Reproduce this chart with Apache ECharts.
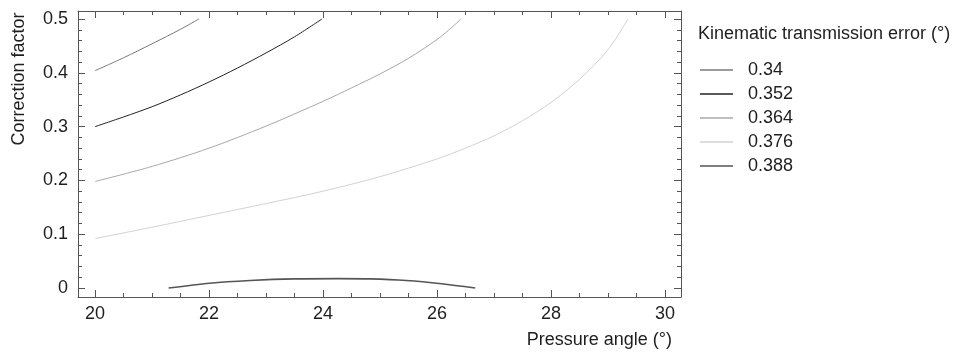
<!DOCTYPE html>
<html>
<head>
<meta charset="utf-8">
<script src="https://cdn.jsdelivr.net/npm/echarts@6/dist/echarts.min.js"></script>
<style>
  html, body { margin: 0; padding: 0; background: #fff; }
  #chart { width: 957px; height: 352px; }
</style>
</head>
<body>
<div id="chart"></div>
<script>
// contour levels (kinematic transmission error, °)
const levels = ['0.34', '0.352', '0.364', '0.376', '0.388'];

// pressure angle (x) / correction factor (y)
const x034 = [20, 20.5, 21, 21.5, 21.82];
const y034 = [0.404, 0.428, 0.454, 0.481, 0.5];

const x0352 = [20, 20.5, 21, 21.5, 22, 22.5, 23, 23.5, 23.98];
const y0352 = [0.3, 0.318, 0.337, 0.359, 0.383, 0.409, 0.437, 0.467, 0.5];

const x0364 = [20, 21, 22, 23, 24, 24.5, 25, 25.5, 26, 26.2, 26.42];
const y0364 = [0.198, 0.226, 0.26, 0.301, 0.347, 0.372, 0.398, 0.427, 0.462, 0.479, 0.5];

const x0376 = [20, 21, 22, 23, 24, 25, 26, 26.5, 27, 27.5, 28, 28.5, 29, 29.35];
const y0376 = [0.092, 0.113, 0.135, 0.157, 0.18, 0.207, 0.24, 0.26, 0.283, 0.311, 0.345, 0.388, 0.443, 0.5];

const x0388 = [21.29, 22.01, 22.72, 23.5, 24.28, 24.83, 25.46, 26.08, 26.67];
const y0388 = [0, 0.009, 0.014, 0.017, 0.0175, 0.017, 0.014, 0.008, 0];

// tick labels
const xMajor = [20, 22, 24, 26, 28, 30];
const xMinor = [20, 20.5, 21, 21.5, 22, 22.5, 23, 23.5, 24, 24.5, 25, 25.5, 26, 26.5, 27, 27.5, 28, 28.5, 29, 29.5, 30];
const yMajor = [0, 0.1, 0.2, 0.3, 0.4, 0.5];
const yMinor = [0, 0.02, 0.04, 0.06, 0.08, 0.1, 0.12, 0.14, 0.16, 0.18, 0.2, 0.22, 0.24, 0.26, 0.28, 0.3,
  0.32, 0.34, 0.36, 0.38, 0.4, 0.42, 0.44, 0.46, 0.48, 0.5];

const lineColors = ['#7a7a7a', '#222222', '#a8a8a8', '#d2d2d2', '#555555'];
const lineWidths = [1, 1, 1, 1, 1.6];

const contours = [[x034, y034], [x0352, y0352], [x0364, y0364], [x0376, y0376], [x0388, y0388]];

const font = '"Liberation Sans", Arial, sans-serif';
const textColor = '#1e1e1e';
const axisColor = '#555';

const chart = echarts.init(document.getElementById('chart'));

function xAxisCfg(pos, ticks, len, withLine, withLabel) {
  return {
    type: 'value', position: pos, min: 19.7, max: 30.28,
    axisLine: { show: withLine, onZero: false, lineStyle: { color: axisColor, width: 1 } },
    axisTick: { show: true, inside: true, length: len, customValues: ticks, lineStyle: { color: axisColor } },
    axisLabel: withLabel
      ? { show: true, customValues: xMajor, color: textColor, fontSize: 18, fontFamily: font, margin: 8 }
      : { show: false },
    splitLine: { show: false }
  };
}

function yAxisCfg(pos, ticks, len, withLine, withLabel) {
  return {
    type: 'value', position: pos, min: -0.0167, max: 0.5149,
    axisLine: { show: withLine, onZero: false, lineStyle: { color: axisColor, width: 1 } },
    axisTick: { show: true, inside: true, length: len, customValues: ticks, lineStyle: { color: axisColor } },
    axisLabel: withLabel
      ? { show: true, customValues: yMajor, color: textColor, fontSize: 18, fontFamily: font, margin: 10 }
      : { show: false },
    splitLine: { show: false }
  };
}

const series = levels.map((name, i) => ({
  name,
  type: 'line',
  smooth: 0.3,
  symbol: 'none',
  xAxisIndex: 0,
  yAxisIndex: 0,
  lineStyle: { color: lineColors[i], width: lineWidths[i] },
  itemStyle: { color: lineColors[i] },
  data: contours[i][0].map((x, j) => [x, contours[i][1][j]])
}));

chart.setOption({
  animation: false,
  backgroundColor: '#fff',
  title: {
    text: 'Kinematic transmission error (°)',
    left: 693, top: 20,
    textStyle: { color: textColor, fontSize: 18, fontWeight: 'normal', fontFamily: font }
  },
  legend: {
    orient: 'vertical',
    left: 695, top: 56,
    icon: 'rect',
    itemWidth: 33, itemHeight: 1.5, itemGap: 6,
    textStyle: { color: textColor, fontSize: 18, fontFamily: font, padding: [0, 0, 0, 10] },
    data: levels
  },
  grid: { left: 78, top: 11, right: 276, bottom: 55, containLabel: false },
  xAxis: [
    xAxisCfg('bottom', xMajor, 7, true, true),
    xAxisCfg('bottom', xMinor, 4, false, false),
    xAxisCfg('top', xMajor, 7, true, false),
    xAxisCfg('top', xMinor, 4, false, false)
  ],
  yAxis: [
    yAxisCfg('left', yMajor, 7, true, true),
    yAxisCfg('left', yMinor, 4, false, false),
    yAxisCfg('right', yMajor, 7, true, false),
    yAxisCfg('right', yMinor, 4, false, false)
  ],
  graphic: [
    {
      type: 'text', x: 19, y: 79, rotation: Math.PI / 2,
      style: { text: 'Correction factor', fill: textColor, font: '18px ' + font, align: 'center', verticalAlign: 'middle' }
    },
    {
      type: 'text', x: 672, y: 340,
      style: { text: 'Pressure angle (°)', fill: textColor, font: '18px ' + font, align: 'right', verticalAlign: 'middle' }
    }
  ],
  series
});
</script>
</body>
</html>
